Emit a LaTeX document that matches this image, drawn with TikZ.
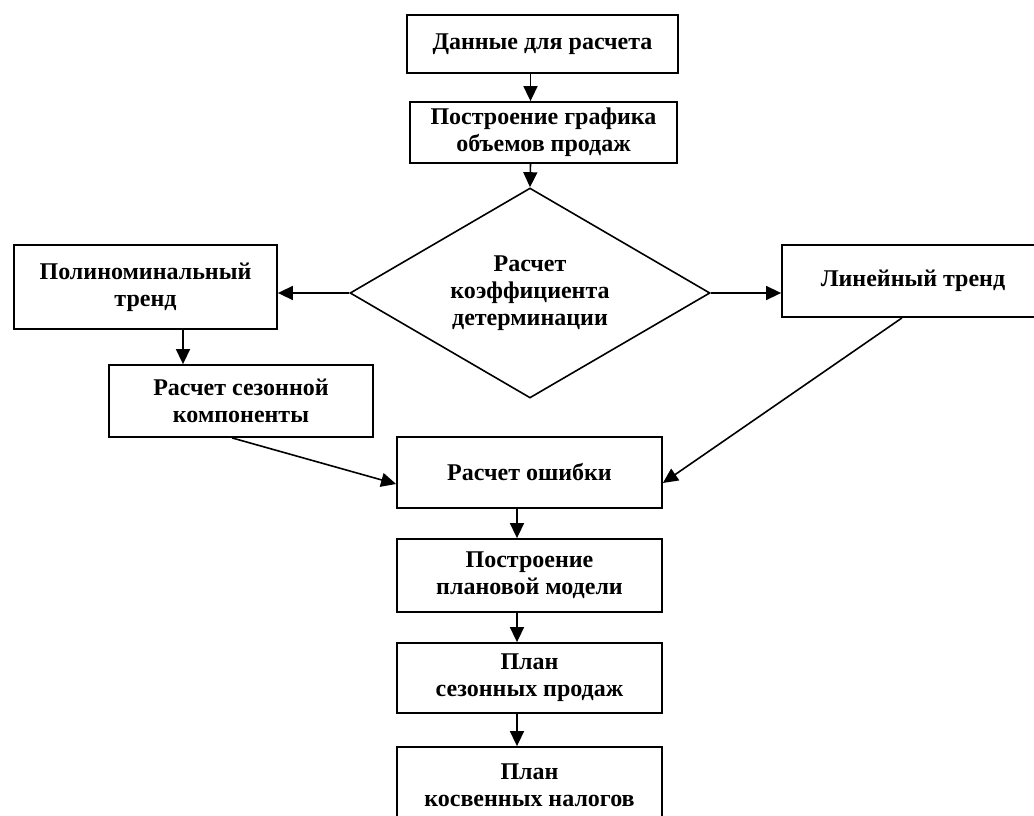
\documentclass[tikz,border=0pt]{standalone}
\usepackage{fontspec}
\setmainfont{Liberation Serif}
\usetikzlibrary{arrows.meta}
\usetikzlibrary{shapes.geometric}

\tikzset{
  box/.style={draw, line width=1.8pt, align=center, inner sep=0pt, font=\bfseries\fontsize{24}{27}\selectfont},
  arr/.style={line width=1.6pt, -{Triangle[length=15pt,width=14pt]}},
}

\begin{document}
\begin{tikzpicture}[x=1pt, y=-1pt]
\clip (0,0) rectangle (1034,816);
\useasboundingbox (0,0) rectangle (1034,816);

% main column
\node[box, minimum width=271pt, minimum height=58pt] (data) at (542.5,44) {Данные для расчета};
\node[box, minimum width=267pt, minimum height=61pt] (graph) at (543.5,132.5) {Построение графика\\объемов продаж};
\node[box, diamond, aspect=1.714, line width=1.6pt, minimum width=360pt, minimum height=210pt] (coef) at (530,293) {Расчет\\коэффициента\\детерминации};

% branches
\node[box, minimum width=263pt, minimum height=84pt] (poly) at (145.5,287) {Полиноминальный\\тренд};
\node[box, minimum width=262pt, minimum height=72pt] (lin) at (913,281) {Линейный тренд};
\node[box, minimum width=264pt, minimum height=72pt] (season) at (241,401) {Расчет сезонной\\компоненты};

% lower column
\node[box, minimum width=265pt, minimum height=71pt] (error) at (529.5,472.5) {Расчет ошибки};
\node[box, minimum width=265pt, minimum height=73pt] (model) at (529.5,575.5) {Построение\\плановой модели};
\node[box, minimum width=265pt, minimum height=70pt] (plan) at (529.5,678) {План\\сезонных продаж};
\node[box, minimum width=265pt, minimum height=76pt] (tax) at (529.5,785) {План\\косвенных налогов};

\draw[arr] ([xshift=-12pt]data.south) -- ([xshift=-12pt]data.south |- graph.north);
\draw[arr] ([xshift=-13pt]graph.south) -- (coef.north);
\draw[arr] (coef.west) -- (coef.west -| poly.east);
\draw[arr] (coef.east) -- (coef.east -| lin.west);
\draw[arr] ([xshift=37.5pt]poly.south) -- ([xshift=37.5pt]poly.south |- season.north);
\draw[arr] ([xshift=-9pt]season.south) -- ([yshift=-11.5pt]error.west);
\draw[arr] ([xshift=-11pt]lin.south) -- ([yshift=-10.5pt]error.east);
\draw[arr] ([xshift=-12.5pt]error.south) -- ([xshift=-12.5pt]error.south |- model.north);
\draw[arr] ([xshift=-12.5pt]model.south) -- ([xshift=-12.5pt]model.south |- plan.north);
\draw[arr] ([xshift=-12.5pt]plan.south) -- ([xshift=-12.5pt]plan.south |- tax.north);
\end{tikzpicture}
\end{document}
